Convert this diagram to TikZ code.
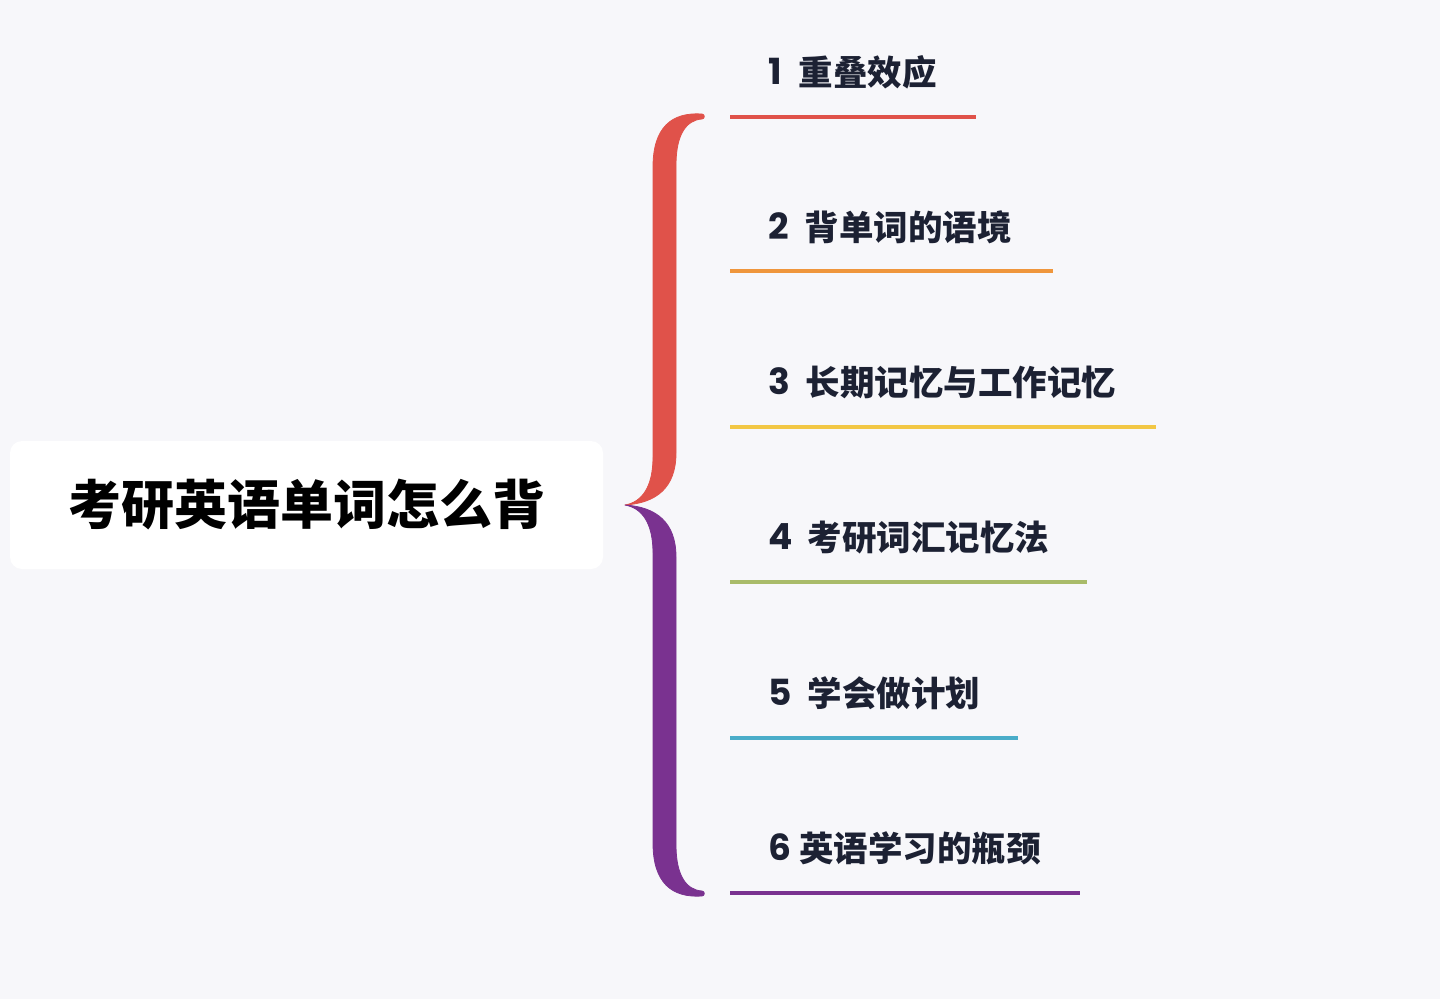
\documentclass[tikz,border=0pt]{standalone}
\usepackage{fontspec}
\newfontfamily\cjk{Noto Sans CJK SC}
\newfontfamily\pop{Poppins}
\definecolor{bg}{HTML}{F7F7FA}
\definecolor{txt}{HTML}{1C2133}
\definecolor{cred}{HTML}{E0524A}
\definecolor{corange}{HTML}{EF963C}
\definecolor{cyellow}{HTML}{F2C744}
\definecolor{cgreen}{HTML}{A9BB69}
\definecolor{ccyan}{HTML}{4AADC9}
\definecolor{cpurple}{HTML}{7A3290}
\newcommand{\num}[1]{\raisebox{1pt}{\pop\bfseries\fontsize{36}{40}\selectfont #1}}
\tikzset{
  item/.style={anchor=west,inner sep=0pt,text=txt,font=\cjk\bfseries\fontsize{34.5}{40}\selectfont},
  uline/.style={line width=3.5pt},
  bracepart/.style={line width=0.8pt,line join=round}
}
\newcommand{\bracepath}{(702,-391) .. controls (672,-393) and (653,-378) .. (653,-338) -- (653,-48) .. controls (653,-18) and (642,-3) .. (625,0) .. controls (656,-2) and (676,-17) .. (676,-52) -- (676,-340) .. controls (676,-370) and (686,-385) .. (702,-386) .. controls (705,-386) and (705,-391) .. (702,-391) -- cycle}
\begin{document}
\begin{tikzpicture}[x=1pt,y=-1pt]
\fill[bg] (0,0) rectangle (1440,999);
\useasboundingbox (0,0) rectangle (1440,999);
\node[fill=white,rounded corners=12pt,minimum width=593pt,minimum height=128pt,inner sep=0pt] (root) at (306.5,505) {};
\node[inner sep=0pt,text=black,font=\cjk\bfseries\fontsize{53}{60}\selectfont] (title) at (307,505) {考研英语单词怎么背};
\begin{scope}[shift={(0,505)}]
\filldraw[bracepart,fill=cred,draw=cred] \bracepath;
\end{scope}
\begin{scope}[shift={(0,505)},yscale=-1]
\filldraw[bracepart,fill=cpurple,draw=cpurple] \bracepath;
\end{scope}
\node[item] (i1) at (768,72) {\num{1}\hspace{17pt}重叠效应};
\node[item] (i2) at (768,227) {\num{2}\hspace{16pt}背单词的语境};
\node[item] (i3) at (768,382) {\num{3}\hspace{16pt}长期记忆与工作记忆};
\node[item] (i4) at (768,538) {\num{4}\hspace{15pt}考研词汇记忆法};
\node[item] (i5) at (768,693) {\num{5}\hspace{16pt}学会做计划};
\node[item] (i6) at (768,848) {\num{6}\hspace{8pt}英语学习的瓶颈};
\coordinate (a1) at (730,117); \coordinate (b1) at (976,117);
\coordinate (a2) at (730,271); \coordinate (b2) at (1053,271);
\coordinate (a3) at (730,427); \coordinate (b3) at (1156,427);
\coordinate (a4) at (730,582); \coordinate (b4) at (1087,582);
\coordinate (a5) at (730,738); \coordinate (b5) at (1018,738);
\coordinate (a6) at (730,893); \coordinate (b6) at (1080,893);
\draw[uline,cred] (a1) -- (b1);
\draw[uline,corange] (a2) -- (b2);
\draw[uline,cyellow] (a3) -- (b3);
\draw[uline,cgreen] (a4) -- (b4);
\draw[uline,ccyan] (a5) -- (b5);
\draw[uline,cpurple] (a6) -- (b6);
\end{tikzpicture}
\end{document}
